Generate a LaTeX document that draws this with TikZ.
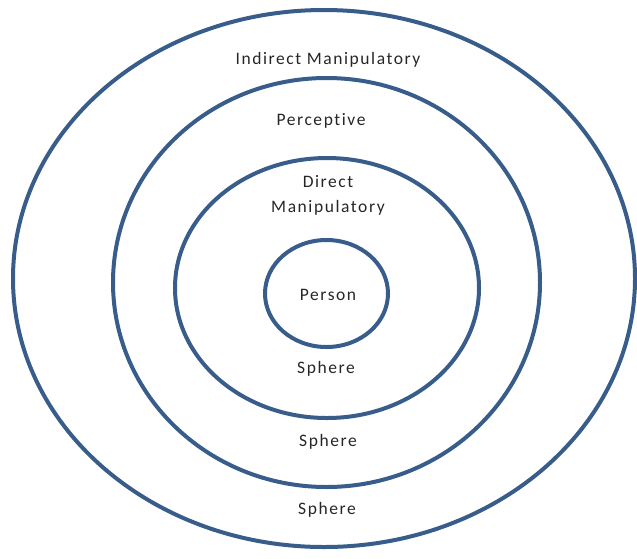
\documentclass[tikz,border=0pt]{standalone}
\usepackage{fontspec}
\setmainfont{Carlito}[LetterSpace=9,Ligatures={NoCommon}]
\definecolor{ringblue}{RGB}{56,93,138}
\begin{document}
\begin{tikzpicture}[x=1pt,y=-1pt,
  ring/.style={draw=ringblue,line width=4pt},
  lbl/.style={font=\fontsize{17.5}{25}\selectfont,text=black!85,align=center,inner sep=0pt}]
\useasboundingbox (0,0) rectangle (637,558);
\draw[ring] (324,278.5) ellipse [x radius=311, y radius=268.5];
\draw[ring] (326.5,282.5) ellipse [x radius=213.5, y radius=204.5];
\draw[ring] (327,288) ellipse [x radius=152, y radius=130];
\draw[ring] (326.5,293.5) ellipse [x radius=61.5, y radius=53.5];
\node[lbl] (indirect) at (328,60) {Indirect Manipulatory};
\node[lbl] (percep) at (321,121) {Perceptive};
\node[lbl] (direct) at (328,195) {Direct\\Manipulatory};
\node[lbl] (person) at (328,295) {Person};
\node[lbl] (s1) at (326,369) {Sphere};
\node[lbl] (s2) at (328,442) {Sphere};
\node[lbl] (s3) at (327,510) {Sphere};
\end{tikzpicture}
\end{document}
